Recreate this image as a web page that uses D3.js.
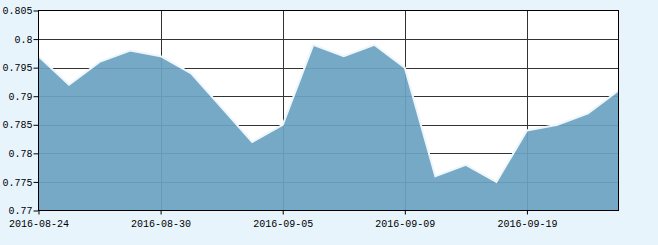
<!DOCTYPE html>
<html><head><meta charset="utf-8">
<script src="https://cdn.jsdelivr.net/npm/d3@7/dist/d3.min.js"></script>
<style>
html,body{margin:0;padding:0;background:#e8f4fc;}
svg{display:block;}
text{font-family:"Liberation Mono","DejaVu Sans Mono",monospace;font-size:10px;fill:#000;}
</style></head><body>
<script>
const dates = ["2016-08-24","2016-08-25","2016-08-26","2016-08-29","2016-08-30","2016-08-31","2016-09-01","2016-09-02","2016-09-05","2016-09-06","2016-09-07","2016-09-08","2016-09-09","2016-09-12","2016-09-13","2016-09-14","2016-09-19","2016-09-20","2016-09-21","2016-09-22"];
const values = [0.797,0.792,0.796,0.798,0.797,0.794,0.788,0.782,0.785,0.799,0.797,0.799,0.795,0.776,0.778,0.775,0.784,0.785,0.787,0.791];
const xTickLabels = ["2016-08-24","2016-08-30","2016-09-05","2016-09-09","2016-09-19"];
const yTicks = [0.77,0.775,0.78,0.785,0.79,0.795,0.8,0.805];
const yTickLabels = ["0.77","0.775","0.78","0.785","0.79","0.795","0.8","0.805"];

const W=658,H=245, L=38.5, R=618.5, T=10.5, B=210.5;
const FONT='"Liberation Mono","DejaVu Sans Mono",monospace';
const svg = d3.select("body").append("svg").attr("width",W).attr("height",H);
svg.append("rect").attr("x",L).attr("y",T).attr("width",R-L).attr("height",B-T).attr("fill","#fff");

const x = d3.scalePoint().domain(dates).range([L,R]);
const y = d3.scaleLinear().domain([0.77,0.805]).range([B,T]);

// grid
const g = svg.append("g");
g.selectAll("line.h").data(yTicks.slice(1,-1)).join("line")
  .attr("x1",L).attr("x2",R).attr("y1",d=>Math.round(y(d))+0.5).attr("y2",d=>Math.round(y(d))+0.5)
  .attr("stroke","#333").attr("stroke-width",1);
g.selectAll("line.v").data(xTickLabels.slice(1)).join("line")
  .attr("y1",T).attr("y2",B).attr("x1",d=>Math.round(x(d))+0.5).attr("x2",d=>Math.round(x(d))+0.5)
  .attr("stroke","#333").attr("stroke-width",1);

// area
const area = d3.area().x((d,i)=>x(dates[i])).y0(B).y1(d=>y(d));
svg.append("path").datum(values).attr("d",area).attr("fill","rgb(108,162,194)").attr("fill-opacity",0.93);
const line = d3.line().x((d,i)=>x(dates[i])).y(d=>y(d));
svg.append("path").datum(values).attr("d",line).attr("fill","none").attr("stroke","#eef6fb").attr("stroke-width",2);

// frame
svg.append("rect").attr("x",L).attr("y",T).attr("width",R-L).attr("height",B-T).attr("fill","none").attr("stroke","#000").attr("stroke-width",1);

// y axis
const yAxis = d3.axisLeft(y).tickValues(yTicks).tickSize(5).tickPadding(1)
  .tickFormat((d,i)=>yTickLabels[i]);
const ya = svg.append("g").attr("transform",`translate(${L},0)`).call(yAxis);
ya.select(".domain").remove();
ya.selectAll("line").attr("stroke","#000");
ya.selectAll("text").style("font-family",FONT).style("font-size","10px").attr("fill","#000");

// x axis
const xAxis = d3.axisBottom(x).tickValues(xTickLabels).tickSize(4).tickPadding(5);
const xa = svg.append("g").attr("transform",`translate(0,${B})`).call(xAxis);
xa.select(".domain").remove();
xa.selectAll("line").attr("stroke","#000");
xa.selectAll("text").style("font-family",FONT).style("font-size","10px").attr("fill","#000");
</script>
</body></html>
